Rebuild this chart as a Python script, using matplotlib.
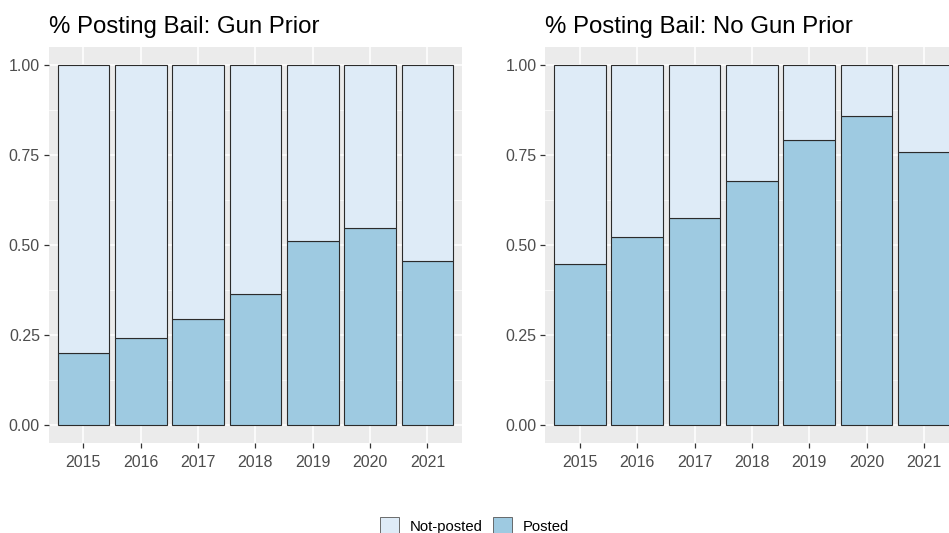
import numpy as np
import matplotlib
matplotlib.use("Agg")
import matplotlib.pyplot as plt
from matplotlib.patches import Patch

plt.rcParams['font.family'] = ['Liberation Sans', 'DejaVu Sans']

# data
years = ['2015', '2016', '2017', '2018', '2019', '2020', '2021']
gun_posted = [0.200, 0.241, 0.294, 0.365, 0.510, 0.548, 0.455]
nogun_posted = [0.446, 0.521, 0.574, 0.678, 0.791, 0.858, 0.757]
titles = ['% Posting Bail: Gun Prior', '% Posting Bail: No Gun Prior']
legend_labels = ['Not-posted', 'Posted']

col_not = '#deebf7'
col_post = '#9ecae1'
edge = '#2b2b2b'

fig = plt.figure(figsize=(9.49, 5.33), dpi=100)
ax1 = fig.add_axes([0.0516, 0.169, 0.435, 0.743])
ax2 = fig.add_axes([0.5748, 0.169, 0.435, 0.743])


def draw_panel(ax, posted, title):
    x = np.arange(len(years))
    posted = np.array(posted)
    ax.set_facecolor('#ebebeb')
    # grid first
    for v in [0.125, 0.375, 0.625, 0.875]:
        ax.axhline(v, color='white', lw=0.5, zorder=0)
    for v in [0, 0.25, 0.5, 0.75, 1.0]:
        ax.axhline(v, color='white', lw=1.1, zorder=0)
    for xi in x:
        ax.axvline(xi, color='white', lw=1.1, zorder=0)
    ax.bar(x, posted, width=0.9, color=col_post, edgecolor=edge, lw=0.8, zorder=2)
    ax.bar(x, 1 - posted, bottom=posted, width=0.9, color=col_not,
           edgecolor=edge, lw=0.8, zorder=2)
    ax.set_xlim(-0.6, len(years) - 0.4)
    ax.set_ylim(-0.05, 1.05)
    ax.set_xticks(x)
    ax.set_xticklabels(years)
    ax.set_yticks([0, 0.25, 0.5, 0.75, 1.0])
    ax.set_yticklabels(['0.00', '0.25', '0.50', '0.75', '1.00'])
    ax.tick_params(colors='#333333', labelcolor='#4d4d4d', labelsize=11.5,
                   length=3.5, width=0.9, pad=3)
    ax.tick_params(axis='x', pad=5)
    for s in ax.spines.values():
        s.set_visible(False)
    ax.set_title(title, loc='left', fontsize=17.3, pad=10, color='black')


draw_panel(ax1, gun_posted, titles[0])
draw_panel(ax2, nogun_posted, titles[1])

handles = [Patch(facecolor=col_not, edgecolor='#555555', lw=0.6),
           Patch(facecolor=col_post, edgecolor='#555555', lw=0.6)]
fig.legend(handles, legend_labels, loc='center', bbox_to_anchor=(0.5, 0.014),
           ncol=2, frameon=False, fontsize=10.7, handlelength=1.3,
           handleheight=1.3, handletextpad=0.7, columnspacing=0.7)

fig.savefig('out.png', dpi=100)
